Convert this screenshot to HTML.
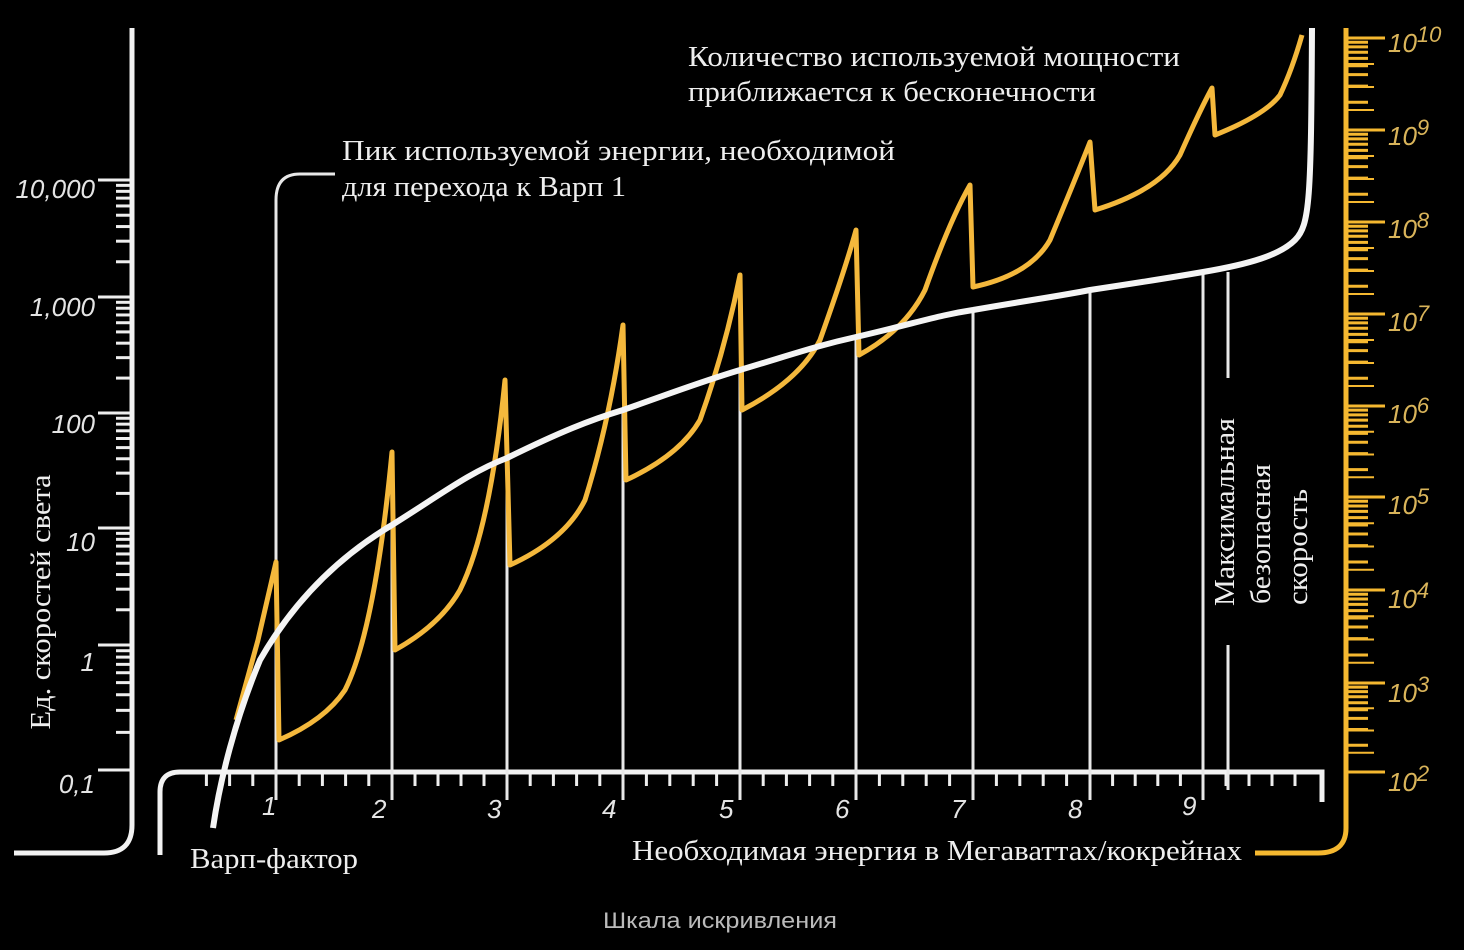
<!DOCTYPE html>
<html><head><meta charset="utf-8"><style>
html,body{margin:0;padding:0;background:#000;width:1464px;height:950px;overflow:hidden}
svg{display:block}
.t{font-family:"Liberation Serif",serif;fill:#eee;font-size:28px}
.n{font-family:"Liberation Sans",sans-serif;font-style:italic;fill:#e4e4e4;font-size:26px}
.y{font-family:"Liberation Sans",sans-serif;font-style:italic;fill:#d9b45a;font-size:26px}
</style></head><body>
<svg id="s" width="1464" height="950" viewBox="0 0 1464 950" xmlns="http://www.w3.org/2000/svg">
<g id="ticks"></g>
<path d="M132 28 V825 Q132 853 104 853 H14" stroke="#f2f2f2" stroke-width="5" fill="none"/>
<path d="M1346 28 V828 Q1346 853 1318 853 H1255" stroke="#f5b830" stroke-width="5" fill="none"/>
<path d="M160 855 V792 Q160 772 180 772 H1322 V802" stroke="#f2f2f2" stroke-width="5" fill="none"/>
<g stroke="#e8e8e8" stroke-width="3" fill="none">
<path d="M276 540 V800" />
<path d="M276 540 V200 Q276 174 300 174 H335"/>
<line x1="392" y1="525" x2="392" y2="800"/>
<line x1="507" y1="458" x2="507" y2="800"/>
<line x1="623" y1="410" x2="623" y2="800"/>
<line x1="740" y1="370" x2="740" y2="800"/>
<line x1="856" y1="337" x2="856" y2="800"/>
<line x1="973" y1="310" x2="973" y2="800"/>
<line x1="1090" y1="292" x2="1090" y2="800"/>
<line x1="1203" y1="272" x2="1203" y2="800"/>
<line x1="1228" y1="272" x2="1228" y2="378"/>
<line x1="1228" y1="645" x2="1228" y2="790"/>
</g>
<path d="M236 720 L258 640 L276 562 L279 740 Q325 720 345 690 Q375 630 392 452 L395 650 Q440 625 460 590 Q490 530 505 380 L510 565 Q565 540 585 500 Q610 420 623 325 L626 480 Q680 455 700 420 Q725 350 740 275 L742 410 Q800 380 820 340 Q845 270 856 230 L859 355 Q905 330 925 290 Q950 220 970 185 L973 287 Q1030 275 1050 240 Q1075 180 1090 142 L1095 210 Q1160 190 1180 155 Q1200 110 1212 88 L1215 135 Q1265 115 1280 95 Q1292 70 1302 35" stroke="#f4b83c" stroke-width="5" fill="none" stroke-linejoin="round"/>
<path d="M213 828 C220 780 235 720 260 660 C300 590 350 550 392 525 C440 495 470 472 507 458 C560 432 590 420 623 410 C680 390 700 382 740 370 C800 352 820 345 856 337 C920 322 940 315 973 310 C1030 300 1060 296 1090 290 C1150 281 1180 276 1203 272 C1250 264 1280 255 1295 240 C1310 225 1311 200 1312 28" stroke="#f4f4f4" stroke-width="6" fill="none"/>
<text class="n" x="95" y="198" text-anchor="end">10,000</text>
<text class="n" x="95" y="316" text-anchor="end">1,000</text>
<text class="n" x="95" y="433" text-anchor="end">100</text>
<text class="n" x="95" y="551" text-anchor="end">10</text>
<text class="n" x="95" y="671" text-anchor="end">1</text>
<text class="n" x="95" y="793" text-anchor="end">0,1</text>
<g class="y">
<text x="1388" y="52">10<tspan dy="-10" font-size="22">10</tspan></text>
<text x="1388" y="145">10<tspan dy="-10" font-size="22">9</tspan></text>
<text x="1388" y="238">10<tspan dy="-10" font-size="22">8</tspan></text>
<text x="1388" y="331">10<tspan dy="-10" font-size="22">7</tspan></text>
<text x="1388" y="423">10<tspan dy="-10" font-size="22">6</tspan></text>
<text x="1388" y="514">10<tspan dy="-10" font-size="22">5</tspan></text>
<text x="1388" y="608">10<tspan dy="-10" font-size="22">4</tspan></text>
<text x="1388" y="702">10<tspan dy="-10" font-size="22">3</tspan></text>
<text x="1388" y="791">10<tspan dy="-10" font-size="22">2</tspan></text>
</g>
<g class="n">
<text x="262" y="815">1</text><text x="372" y="818">2</text><text x="487" y="818">3</text>
<text x="602" y="818">4</text><text x="719" y="818">5</text><text x="835" y="818">6</text>
<text x="951" y="818">7</text><text x="1068" y="818">8</text><text x="1182" y="815">9</text>
</g>
<text class="t" x="688" y="66" textLength="492" lengthAdjust="spacingAndGlyphs">Количество используемой мощности</text>
<text class="t" x="688" y="101" textLength="408" lengthAdjust="spacingAndGlyphs">приближается к бесконечности</text>
<text class="t" x="342" y="160" textLength="553" lengthAdjust="spacingAndGlyphs">Пик используемой энергии, необходимой</text>
<text class="t" x="342" y="196" textLength="284" lengthAdjust="spacingAndGlyphs">для перехода к Варп 1</text>
<text class="t" x="190" y="868" textLength="168" lengthAdjust="spacingAndGlyphs">Варп-фактор</text>
<text class="t" x="632" y="860" textLength="610" lengthAdjust="spacingAndGlyphs">Необходимая энергия в Мегаваттах/кокрейнах</text>
<text class="t" transform="translate(50,602) rotate(-90)" text-anchor="middle" textLength="255" lengthAdjust="spacingAndGlyphs">Ед. скоростей света</text>
<text class="t" transform="translate(1234,512) rotate(-90)" text-anchor="middle" textLength="188" lengthAdjust="spacingAndGlyphs">Максимальная</text>
<text class="t" transform="translate(1270,534) rotate(-90)" text-anchor="middle" textLength="140" lengthAdjust="spacingAndGlyphs">безопасная</text>
<text class="t" transform="translate(1307,547) rotate(-90)" text-anchor="middle" textLength="116" lengthAdjust="spacingAndGlyphs">скорость</text>
<text x="720" y="928" text-anchor="middle" font-family="Liberation Sans, sans-serif" font-size="22" fill="#bbb" textLength="234" lengthAdjust="spacingAndGlyphs">Шкала искривления</text>
</svg>
<script>
var g=document.getElementById('ticks'),ns='http://www.w3.org/2000/svg';
function L(x1,y1,x2,y2,c,w){var l=document.createElementNS(ns,'line');l.setAttribute('x1',x1);l.setAttribute('y1',y1);l.setAttribute('x2',x2);l.setAttribute('y2',y2);l.setAttribute('stroke',c);l.setAttribute('stroke-width',w);g.appendChild(l);}
var lt=[180,297,413,528,645,770];
for(var i=0;i<6;i++){L(98,lt[i],132,lt[i],'#eee',3);
 if(i<5){var d=lt[i+1]-lt[i];for(var k=2;k<10;k++){var y=lt[i+1]-d*Math.log10(k);L(116,y,132,y,'#eee',3);}}}
var rt=[38,130,222,314,406,497,590,683,772];
for(var i=0;i<9;i++){L(1346,rt[i],1385,rt[i],'#f5b830',3);
 if(i<8){var d=rt[i+1]-rt[i];for(var k=2;k<10;k++){var y=rt[i+1]-d*Math.log10(k);L(1346,y,1368,y,'#f5b830',3);}
 for(var k=1;k<4;k++){var y=rt[i]+d*k/4+3;L(1346,y,1374,y,'#f5b830',2);}}}
var wx=[276,392,507,623,740,856,973,1090,1203];
for(var i=0;i<wx.length;i++){for(var k=1;k<5;k++){var x=wx[i]+(((i<8?wx[i+1]:1318)-wx[i])*k/5);L(x,772,x,786,'#eee',3);}}
for(var k=1;k<5;k++){var x=160+(276-160)*k/5;if(x>200)L(x,772,x,786,'#eee',3);}
</script>
</body></html>
